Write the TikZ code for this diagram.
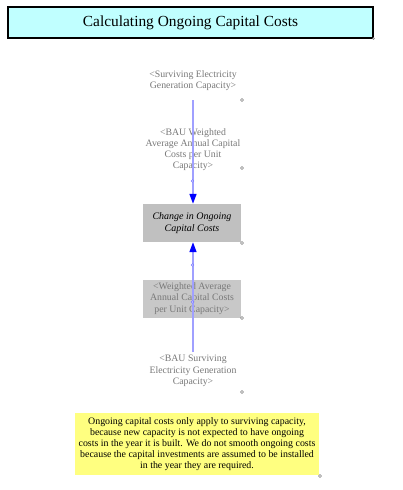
\documentclass[tikz,border=0pt]{standalone}
\usepackage{fontspec}
\setmainfont{Liberation Serif}
\usetikzlibrary{arrows.meta}
\definecolor{titlecyan}{RGB}{192,255,255}
\definecolor{boxgray}{RGB}{192,192,192}
\definecolor{boxgraylight}{RGB}{200,200,200}
\definecolor{shadowtext}{RGB}{120,120,120}
\definecolor{linkblue}{RGB}{160,160,255}
\definecolor{notey}{RGB}{255,255,128}
\tikzset{
  shadowvar/.style={align=center, text=shadowtext, font=\fontsize{9.8}{11.2}\selectfont, inner sep=0pt},
  varbox/.style={align=center, font=\fontsize{10}{12}\selectfont\itshape, fill=boxgray, minimum width=98pt, minimum height=38pt, inner sep=0pt},
  handle/.style={circle, draw=gray, fill=white, inner sep=0pt, minimum size=3pt, line width=0.4pt},
  link/.style={draw=linkblue, line width=1.6pt, -{Triangle[length=10pt,width=7pt,color=blue]}},
}
\begin{document}
\begin{tikzpicture}[x=1pt,y=-1pt]
\useasboundingbox (0,0) rectangle (403,490);
\fill[white] (0,0) rectangle (403,490);
% title
\node[draw=black, line width=1.1pt, fill=titlecyan, minimum width=365pt, minimum height=31pt, inner sep=0pt, font=\fontsize{15.4}{17}\selectfont] (title) at (190.5,22.5) {Calculating Ongoing Capital Costs};
\node[handle, minimum size=2pt] (h0) at (title.south east) {};
% variables
\node[shadowvar] (surv) at (193,81) {<Surviving Electricity\\Generation Capacity>};
\node[handle] (h1) at (242,100) {};
\node[shadowvar, font=\fontsize{9.8}{10.8}\selectfont] (bauw) at (193,149.5) {<BAU Weighted\\Average Annual Capital\\Costs per Unit\\Capacity>};
\node[handle] (h2) at (242,168) {};
\node[varbox] (change) at (192,223) {Change in Ongoing\\Capital Costs};
\node[handle] (h3) at (242,243) {};
\node[varbox, fill=boxgraylight, font=\fontsize{9.8}{11.5}\selectfont, text=shadowtext] (wavg) at (192,298.5) {<Weighted Average\\Annual Capital Costs\\per Unit Capacity>};
\node[handle] (h4) at (242,318) {};
\node[shadowvar] (baus) at (193,371) {<BAU Surviving\\Electricity Generation\\Capacity>};
\node[handle] (h5) at (242,392) {};
% links
\coordinate (s1) at (193,100);
\coordinate (s2) at (193,352);
\draw[link] (s1) -- (change.north -| s1);
\draw[link] (s2) -- (change.south -| s2);
\node[handle, draw=linkblue!70!blue, minimum size=2.5pt] (m1) at (192.5,181) {};
\node[handle, draw=linkblue!70!blue, minimum size=2.5pt] (m2) at (192.5,265) {};
\node[handle, draw=linkblue!70!blue, minimum size=2.5pt] (m3) at (192.5,302) {};
% note
\node[fill=notey, minimum width=244pt, minimum height=62pt, inner sep=0pt, align=center, font=\fontsize{9.9}{11}\selectfont] (note) at (197,444) {Ongoing capital costs only apply to surviving capacity,\\because new capacity is not expected to have ongoing\\costs in the year it is built. We do not smooth ongoing costs\\because the capital investments are assumed to be installed\\in the year they are required.};
\node[handle] (h6) at (320,476) {};
\end{tikzpicture}
\end{document}
